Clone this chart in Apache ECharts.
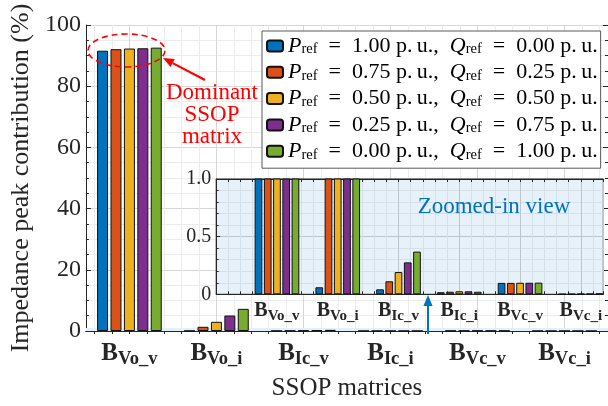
<!DOCTYPE html>
<html>
<head>
<meta charset="utf-8">
<style>
  html, body { margin: 0; padding: 0; background: #fff; }
  #chart { width: 608px; height: 406px; }
</style>
<script src="https://cdn.jsdelivr.net/npm/echarts@6/dist/echarts.min.js"></script>
</head>
<body>
<div id="chart"></div>
<script>
// SSOP matrix names (drawn as bold B with a subscript)
const categories = ['Vo_v', 'Vo_i', 'Ic_v', 'Ic_i', 'Vc_v', 'Vc_i'];

// Operating points
const pRef = ['1.00', '0.75', '0.50', '0.25', '0.00'];
const qRef = ['0.00', '0.25', '0.50', '0.75', '1.00'];

// Impedance peak contribution (%) per SSOP matrix, one list per operating point
const contribP100 = [91.6, 0.061, 0.043, 0.018, 0.099, 0.002];
const contribP075 = [92.1, 1.37, 0.113, 0.022, 0.099, 0.003];
const contribP050 = [92.3, 3.00, 0.193, 0.026, 0.100, 0.004];
const contribP025 = [92.4, 5.06, 0.277, 0.026, 0.100, 0.005];
const contribP000 = [92.6, 7.24, 0.370, 0.022, 0.101, 0.007];

// Axis ticks
const mainTicks = [0, 20, 40, 60, 80, 100];
const insetTicks = ['0', '0.5', '1.0'];

const seriesValues = [contribP100, contribP075, contribP050, contribP025, contribP000];
const colors = ['#0072BD', '#D95319', '#EDB120', '#7E2F8E', '#77AC30'];
const seriesNames = pRef.map((p, i) => 'P' + p + 'Q' + qRef[i]);

const SERIF = 'Liberation Serif';
const AXIS = '#262626';
const GRID_MAJOR = '#d6d6d6';
const GRID_MINOR = '#ececec';

// 61 helper ticks spanning the category axis (every 0.1 of a band)
const fineTicks = Array.from({ length: 61 }, (_, i) => i);
const isMinor = (i) => i % 2 === 1;
const isCenter = (i) => i % 10 === 5;

function matrixLabel(c) { return '{b|B}{s|' + c + '}'; }

const chart = echarts.init(document.getElementById('chart'), null, { renderer: 'canvas' });

const mainBars = seriesValues.map((vals, i) => ({
  type: 'bar',
  name: seriesNames[i],
  xAxisIndex: 0,
  yAxisIndex: 0,
  data: vals,
  barWidth: 11,
  barGap: '22%',
  itemStyle: { color: colors[i], borderColor: '#111', borderWidth: 1 },
  z: 2,
  markArea: i === 0 ? {
    silent: true,
    itemStyle: { color: '#e3f0f9' },
    data: [[{ yAxis: 0 }, { yAxis: 1 }]]
  } : undefined
}));

const insetBars = seriesValues.map((vals, i) => ({
  type: 'bar',
  name: seriesNames[i],
  xAxisIndex: 3,
  yAxisIndex: 2,
  data: vals.map((v, k) => [k + 1, v]),
  barWidth: 7.7,
  barGap: '20%',
  clip: true,
  itemStyle: { color: colors[i], borderColor: '#111', borderWidth: 1 },
  z: 5
}));

const EN = '\u2002';
const THIN = '\u2009';

const option = {
  backgroundColor: '#fff',
  animation: false,
  textStyle: { fontFamily: SERIF },
  grid: [
    { left: 82, top: 25, width: 528, height: 306.5, containLabel: false },
    { left: 216.2, top: 179, width: 387.1, height: 115.3, show: true,
      backgroundColor: '#e6f1fa', borderColor: AXIS, borderWidth: 1, z: 3 }
  ],
  legend: {
    data: seriesNames,
    orient: 'vertical',
    left: 262,
    top: 31,
    padding: [4, 3, 6, 4],
    itemWidth: 16,
    itemHeight: 11,
    itemGap: 4.3,
    backgroundColor: '#fff',
    borderColor: '#5a5a5a',
    borderWidth: 1,
    z: 20,
    formatter: (name) => {
      const i = seriesNames.indexOf(name);
      return '{i|P}{s|ref}{t|' + EN + '=' + EN + pRef[i] + ' p.' + THIN + 'u.,' + EN + '}' +
             '{i|Q}{s|ref}{t|' + EN + '=' + EN + qRef[i] + ' p.' + THIN + 'u.}';
    },
    textStyle: {
      color: '#000',
      rich: {
        i: { fontFamily: SERIF, fontStyle: 'italic', fontSize: 22, lineHeight: 22 },
        s: { fontFamily: SERIF, fontSize: 14.5, lineHeight: 16, verticalAlign: 'bottom', padding: [6, 0, 0, 0] },
        t: { fontFamily: SERIF, fontSize: 22, lineHeight: 22 }
      }
    }
  },
  xAxis: [
    // main categories
    {
      type: 'category', gridIndex: 0, position: 'bottom', data: categories,
      boundaryGap: true,
      axisLine: { show: true, lineStyle: { color: AXIS, width: 1 } },
      axisTick: { show: false },
      splitLine: { show: false },
      axisLabel: {
        interval: 0, margin: 8, color: AXIS, formatter: matrixLabel,
        rich: {
          b: { fontFamily: SERIF, fontWeight: 'bold', fontSize: 25, lineHeight: 30, color: AXIS },
          s: { fontFamily: SERIF, fontWeight: 'bold', fontSize: 18.5, lineHeight: 30, color: AXIS, verticalAlign: 'bottom', padding: [7, 0, 0, 0] }
        }
      },
      name: 'SSOP matrices', nameLocation: 'middle', nameGap: 45,
      nameTextStyle: { fontFamily: SERIF, fontSize: 25, color: AXIS }
    },
    // fine ticks + minor vertical grid (top edge)
    {
      type: 'category', gridIndex: 0, position: 'top', data: fineTicks, boundaryGap: false,
      axisLine: { show: true, lineStyle: { color: AXIS, width: 1 } },
      axisTick: { show: true, inside: true, length: 3, interval: (i) => isMinor(i), lineStyle: { color: AXIS } },
      axisLabel: { show: false },
      splitLine: { show: true, interval: (i) => isMinor(i) && !isCenter(i), lineStyle: { color: GRID_MINOR, width: 1 } }
    },
    // fine ticks (bottom edge) + major vertical grid at the categories
    {
      type: 'category', gridIndex: 0, position: 'bottom', data: fineTicks, boundaryGap: false,
      axisLine: { show: false },
      axisTick: { show: true, inside: true, length: 3, interval: (i) => isMinor(i), lineStyle: { color: AXIS } },
      axisLabel: { show: false },
      splitLine: { show: true, interval: (i) => isCenter(i), lineStyle: { color: GRID_MAJOR, width: 1 } }
    },
    // inset x
    {
      type: 'value', gridIndex: 1, position: 'bottom', min: 0, max: 6.37, interval: 1,
      axisLine: { show: true, onZero: false, lineStyle: { color: AXIS } },
      axisTick: { show: true, inside: true, length: 3, lineStyle: { color: AXIS } },
      minorTick: { show: true, splitNumber: 5, length: 3, lineStyle: { color: AXIS } },
      splitLine: { show: true, lineStyle: { color: '#bcc5cc' } },
      minorSplitLine: { show: true, lineStyle: { color: '#d4e0e9' } },
      axisLabel: {
        margin: 5, color: AXIS, showMinLabel: false, showMaxLabel: false,
        formatter: (v) => (v >= 1 && v <= categories.length ? matrixLabel(categories[v - 1]) : ''),
        rich: {
          b: { fontFamily: SERIF, fontWeight: 'bold', fontSize: 20, lineHeight: 24, color: AXIS },
          s: { fontFamily: SERIF, fontWeight: 'bold', fontSize: 15, lineHeight: 24, color: AXIS, verticalAlign: 'bottom', padding: [5, 0, 0, 0] }
        }
      },
      z: 4
    },
    // inset top edge ticks
    {
      type: 'value', gridIndex: 1, position: 'top', min: 0, max: 6.37, interval: 1,
      axisLine: { show: true, onZero: false, lineStyle: { color: AXIS } },
      axisTick: { show: true, inside: true, length: 3, lineStyle: { color: AXIS } },
      minorTick: { show: true, splitNumber: 5, length: 3, lineStyle: { color: AXIS } },
      splitLine: { show: false },
      axisLabel: { show: false },
      z: 4
    }
  ],
  yAxis: [
    {
      type: 'value', gridIndex: 0, position: 'left', min: 0, max: 100, interval: 20,
      axisLine: { show: true, lineStyle: { color: AXIS } },
      axisTick: { show: true, inside: true, length: 5, lineStyle: { color: AXIS } },
      minorTick: { show: true, splitNumber: 4, length: 3, lineStyle: { color: AXIS } },
      splitLine: { show: true, lineStyle: { color: GRID_MAJOR } },
      minorSplitLine: { show: true, lineStyle: { color: GRID_MINOR } },
      axisLabel: {
        margin: 5, fontFamily: SERIF, fontSize: 24, color: AXIS,
        formatter: (v) => (mainTicks.indexOf(v) >= 0 ? String(v) : '')
      },
      name: 'Impedance peak contribution (%)', nameLocation: 'middle', nameGap: 46,
      nameTextStyle: { fontFamily: SERIF, fontSize: 26, color: AXIS }
    },
    {
      type: 'value', gridIndex: 0, position: 'right', min: 0, max: 100, interval: 20,
      axisLine: { show: true, lineStyle: { color: AXIS } },
      axisTick: { show: true, inside: true, length: 5, lineStyle: { color: AXIS } },
      minorTick: { show: true, splitNumber: 4, length: 3, lineStyle: { color: AXIS } },
      splitLine: { show: false },
      axisLabel: { show: false }
    },
    {
      type: 'value', gridIndex: 1, position: 'left', min: 0, max: 1, interval: 0.5,
      axisLine: { show: true, lineStyle: { color: AXIS } },
      axisTick: { show: true, inside: true, length: 4, lineStyle: { color: AXIS } },
      minorTick: { show: true, splitNumber: 5, length: 2.5, lineStyle: { color: AXIS } },
      splitLine: { show: true, lineStyle: { color: '#bcc5cc' } },
      minorSplitLine: { show: true, lineStyle: { color: '#d4e0e9' } },
      axisLabel: {
        margin: 5, fontFamily: SERIF, fontSize: 20, color: AXIS,
        formatter: (v) => insetTicks[Math.round(v * 2)]
      },
      z: 4
    }
  ],
  series: mainBars.concat(insetBars),
  graphic: [
    { type: 'ellipse', z: 50, shape: { cx: 126.5, cy: 50.5, rx: 38.5, ry: 16.5 },
      style: { fill: 'none', stroke: '#ff0000', lineWidth: 1.6, lineDash: [6, 4] } },
    { type: 'line', z: 50, shape: { x1: 205, y1: 80, x2: 172.7, y2: 63.1 },
      style: { stroke: '#ff0000', lineWidth: 2.2 } },
    { type: 'polygon', z: 50, shape: { points: [[163, 58], [174.8, 59.1], [170.6, 67.1]] },
      style: { fill: '#ff0000' } },
    { type: 'text', z: 50, x: 212, y: 115,
      style: { text: 'Dominant\nSSOP\nmatrix', fill: '#ff0000', font: '23px "Liberation Serif"',
        align: 'center', verticalAlign: 'middle', lineHeight: 22 } },
    { type: 'text', z: 50, x: 494, y: 207,
      style: { text: 'Zoomed-in view', fill: '#0072BD', font: '23px "Liberation Serif"',
        align: 'center', verticalAlign: 'middle' } },
    { type: 'line', z: 50, shape: { x1: 428, y1: 334, x2: 428, y2: 304 },
      style: { stroke: '#0072BD', lineWidth: 2 } },
    { type: 'polygon', z: 50, shape: { points: [[428, 295], [432.6, 306], [423.4, 306]] },
      style: { fill: '#0072BD' } }
  ]
};

chart.setOption(option);
</script>
</body>
</html>
